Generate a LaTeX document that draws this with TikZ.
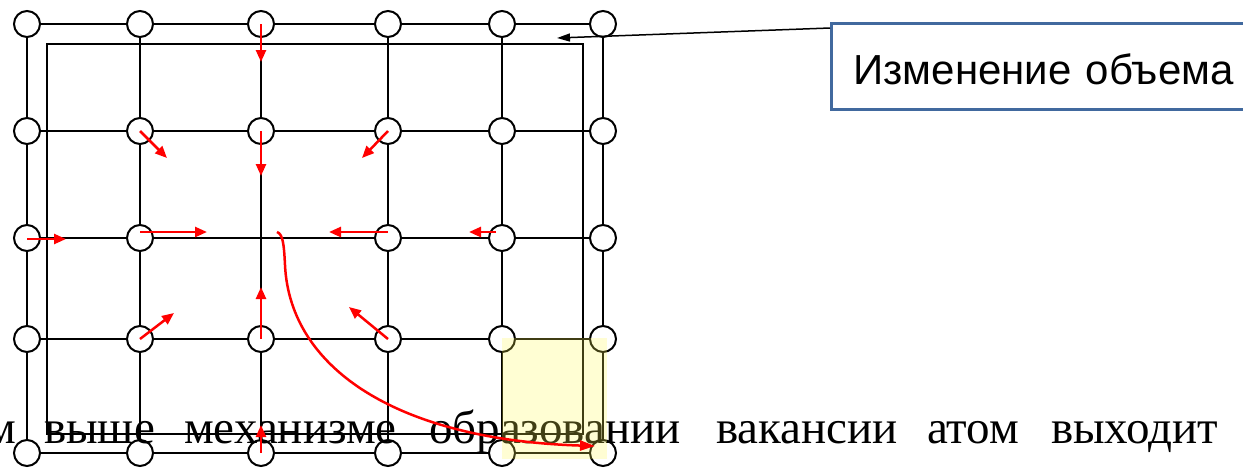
\documentclass[tikz,border=0pt]{standalone}
\usepackage{fontspec}
\setmainfont{Liberation Serif}
\newfontfamily\calloutfont{Liberation Sans}
\usetikzlibrary{positioning,arrows.meta}
\definecolor{boxblue}{RGB}{65,105,158}
\definecolor{cellyellow}{RGB}{255,250,80}
\tikzset{
	atom/.style={circle,draw,line width=2pt,fill=white,minimum size=26pt,inner sep=0pt},
	bond/.style={line width=2pt},
	move/.style={red,line width=2.5pt,-{Triangle[length=12pt,width=10pt]}},
	pointer/.style={line width=1.5pt,-{Triangle[length=13pt,width=8pt]}},
	word/.style={font=\fontsize{47}{50}\selectfont,inner sep=0pt,anchor=base west},
	callout/.style={draw=boxblue,line width=3pt,fill=white,font=\calloutfont\fontsize{42}{48}\selectfont,
		text width=410pt,align=left,inner xsep=22pt,inner ysep=0pt,text height=61pt,text depth=25pt,anchor=north west}
}
\begin{document}
\begin{tikzpicture}[x=1pt,y=-1pt]
	\useasboundingbox (0,0) rectangle (1243,467);
	\foreach \x [count=\i] in {27,140,261,388,502,603}
		\foreach \y [count=\j] in {24,131,238,339,453}
			\coordinate (p-\i-\j) at (\x,\y);
	\foreach \j in {1,...,5}
		\draw[bond] (p-1-\j) -- (p-6-\j);
	\foreach \i in {1,...,6}
		\draw[bond] (p-\i-1) -- (p-\i-5);
	\draw[bond] (47,44) rectangle (583,434);
	\foreach \i in {1,...,6}
		\foreach \j in {1,...,5}{
			\ifnum\i\j=33 \else\node[atom] (a-\i-\j) at (p-\i-\j) {};\fi
		}
	\foreach \x/\w [count=\k] in {-14/м,44/выше,184/механизме,429/образовании,716/вакансии,927/атом,1051/выходит}
		\node[word] (w\k) at (\x,443) {\w};
	\fill[cellyellow,fill opacity=0.25] (502,338) rectangle (607,459);
	\draw[move] (p-3-1) -- ++(0,38);
	\draw[move] (p-3-2) -- ++(0,45);
	\draw[move] (p-2-2) -- ++(27,27);
	\draw[move] (p-4-2) -- ++(-26,27);
	\draw[move] ([yshift=-1pt]p-1-3) -- ++(39,0);
	\draw[move] ([yshift=6pt]p-2-3) -- ++(67,0);
	\draw[move] ([yshift=6pt]p-4-3) -- ++(-59,0);
	\draw[move] ([shift={(-6pt,6pt)}]p-5-3) -- ++(-27,0);
	\draw[move] (p-2-4) -- ++(34,-26);
	\draw[move] (p-3-4) -- ++(0,-52);
	\draw[move] (p-4-4) -- ++(-39,-32);
	\draw[move] (p-3-5) -- ++(0,-28);
	\coordinate (jump) at (277,232);
	\draw[move,-{Triangle[length=15pt,width=10pt]}] (jump) .. controls (283,234) and (284,245) .. (285,265)
		.. controls (290,370) and (400,440) .. ([shift={(-8pt,7pt)}]p-6-5);
	\node[callout] (box) at (830,22) {Изменение объема};
	\coordinate (vol) at (557,38);
	\draw[pointer] ([yshift=-6pt]box.north west) -- (vol);
\end{tikzpicture}
\end{document}
